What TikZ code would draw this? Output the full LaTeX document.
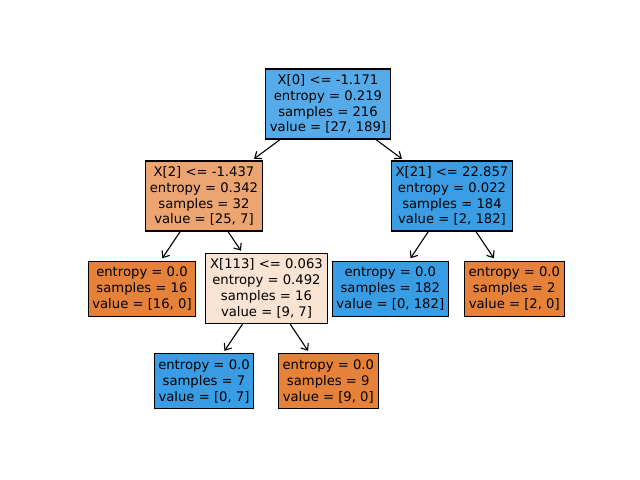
\documentclass[tikz,border=0pt]{standalone}
\usepackage{fontspec}
\setmainfont{DejaVu Sans}
\usetikzlibrary{arrows.meta}

% class colours, blended toward white by node purity
\definecolor{pureorange}{RGB}{229,129,57}
\definecolor{pureblue}{RGB}{57,157,229}
\definecolor{rootblue}{RGB}{85,171,233}
\definecolor{mixorange}{RGB}{236,164,112}
\definecolor{nearblue}{RGB}{59,158,229}
\definecolor{paleorange}{RGB}{249,227,211}

\begin{document}
\begin{tikzpicture}[x=0.72pt,y=-0.72pt,
  treenode/.style={draw=black, line width=0.8pt, align=center,
    font=\fontsize{9.5}{11.4}\selectfont, inner xsep=3pt, inner ysep=0pt},
  splitnode/.style={treenode, minimum height=50.4pt},
  leafnode/.style={treenode, minimum height=39.6pt},
  edge/.style={draw=black, line width=0.8pt,
    -{Straight Barb[length=4pt,width=6.5pt]}, shorten >=2pt}]
\useasboundingbox (0,0) rectangle (640,480);

% split nodes
\node[splitnode, fill=rootblue] (root) at (328,104)
  {X[0] <= -1.171\\entropy = 0.219\\samples = 216\\value = [27, 189]};
\node[splitnode, fill=mixorange] (n1) at (204,196)
  {X[2] <= -1.437\\entropy = 0.342\\samples = 32\\value = [25, 7]};
\node[splitnode, fill=nearblue] (n4) at (452,196)
  {X[21] <= 22.857\\entropy = 0.022\\samples = 184\\value = [2, 182]};
\node[splitnode, fill=paleorange] (n3) at (266.5,288.6)
  {X[113] <= 0.063\\entropy = 0.492\\samples = 16\\value = [9, 7]};

% leaves
\node[leafnode, fill=pureorange] (l2) at (142,288.6)
  {entropy = 0.0\\samples = 16\\value = [16, 0]};
\node[leafnode, fill=pureblue] (l5) at (390.3,288.6)
  {entropy = 0.0\\samples = 182\\value = [0, 182]};
\node[leafnode, fill=pureorange] (l6) at (514.3,288.6)
  {entropy = 0.0\\samples = 2\\value = [2, 0]};
\node[leafnode, fill=pureblue] (l7) at (204,381.2)
  {entropy = 0.0\\samples = 7\\value = [0, 7]};
\node[leafnode, fill=pureorange] (l8) at (328.3,381.2)
  {entropy = 0.0\\samples = 9\\value = [9, 0]};

% edges
\draw[edge] (root) -- (n1);
\draw[edge] (root) -- (n4);
\draw[edge] (n1) -- (l2);
\draw[edge] (n1) -- (n3);
\draw[edge] (n4) -- (l5);
\draw[edge] (n4) -- (l6);
\draw[edge] (n3) -- (l7);
\draw[edge] (n3) -- (l8);
\end{tikzpicture}
\end{document}
